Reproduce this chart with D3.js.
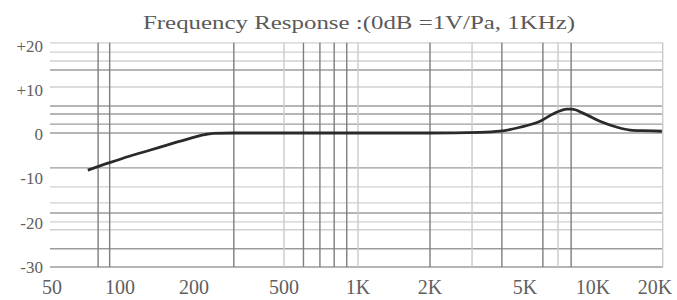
<!DOCTYPE html>
<html>
<head>
	<script src="https://cdnjs.cloudflare.com/ajax/libs/d3/7.8.2/d3.min.js"></script>
	<style>
		body {
			margin: 0 ;
			background: white ;
		}
		text {
			font-family: "Liberation Serif", "DejaVu Serif", serif ;
		}
	</style>
</head>
<body>
	<svg id="canvas"></svg>
</body>
<script>
	// measured response (frequency in Hz, level in dB re 1V/Pa)
	let freqs = [ 72, 90, 110, 132, 160, 193, 219, 243, 300, 1000, 2000, 3240, 3930, 4770, 5830, 6650, 7670, 8070, 9030, 10800, 13100, 15600, 19600, 21600 ] ;
	let levels = [ -8.4, -6.7, -5.2, -3.9, -2.5, -1.2, -0.45, -0.1, 0, 0, 0, 0.15, 0.4, 1.3, 2.65, 4.3, 5.4, 5.4, 4.5, 2.65, 1.3, 0.6, 0.5, 0.4 ] ;

	// axis ticks
	let xTicks = [ 50, 100, 200, 500, 1000, 2000, 5000, 10000, 20000 ] ;
	let xTickLabels = [ "50", "100", "200", "500", "1K", "2K", "5K", "10K", "20K" ] ;
	let yTicks = [ 20, 10, 0, -10, -20, -30 ] ;
	let yTickLabels = [ "+20", "+10", "0", "-10", "-20", "-30" ] ;

	// the printed grid is irregular, these are where its lines sit
	let vGridDark = [ 80, 90, 300, 600, 700, 800, 900, 2000, 4000, 6000, 8000 ] ;
	let vGridLight = [ 500, 1000, 3000, 7000, 21800 ] ;
	let hGridDark = [ 14.25, 6.1, 4.3, 2.0, 0, -7.9, -18.1, -26.2, -30.3 ] ;
	let hGridLight = [ 20.4, 18.3, 16.3, 10.4, -12.2, -15.8, -20.1, -21.9 ] ;

	let title = "Frequency  Response :(0dB =1V/Pa, 1KHz)" ;

	let geom = {
		width: 677,
		height: 300,
		left: 50,
		right: 663
	} ;

	// the scanned chart is not an exact log axis, so go piecewise through the labelled ticks
	let scales = {
		x: d3.scaleLog()
			.domain( xTicks )
			.range( [ 52, 120, 194, 284, 358, 430, 525, 593, 655 ] ),
		y: d3.scaleLinear()
			.domain( [ -30, 20 ] )
			.range( [ 265.6, 44.6 ] )
	} ;

	let svg = d3.select( 'svg' )
		.attr( 'width', geom.width )
		.attr( 'height', geom.height ) ;

	svg.append( 'rect' )
		.attr( 'width', geom.width )
		.attr( 'height', geom.height )
		.attr( 'fill', 'white' ) ;

	let grid = svg.append( 'g' ).attr( 'class', 'grid' ) ;

	let hlines = function( values, colour ) {
		grid.selectAll( null )
			.data( values )
			.enter()
			.append( 'line' )
			.attr( 'x1', geom.left )
			.attr( 'x2', geom.right )
			.attr( 'y1', d => scales.y( d ) )
			.attr( 'y2', d => scales.y( d ) )
			.attr( 'stroke', colour )
			.attr( 'stroke-width', 1.4 ) ;
	} ;
	let vlines = function( values, colour ) {
		grid.selectAll( null )
			.data( values )
			.enter()
			.append( 'line' )
			.attr( 'x1', d => scales.x( d ) )
			.attr( 'x2', d => scales.x( d ) )
			.attr( 'y1', scales.y( 20.4 ) )
			.attr( 'y2', scales.y( -30.3 ) )
			.attr( 'stroke', colour )
			.attr( 'stroke-width', 1.4 ) ;
	} ;
	hlines( hGridLight, '#d0d0d0' ) ;
	hlines( hGridDark, '#9c9c9c' ) ;
	vlines( vGridLight, '#cacaca' ) ;
	vlines( vGridDark, '#7e7e7e' ) ;

	let line = d3.line()
		.x( (d, i) => scales.x( freqs[i] ) )
		.y( (d, i) => scales.y( levels[i] ) )
		.curve( d3.curveMonotoneX ) ;

	svg.append( 'path' )
		.attr( 'd', line( freqs ) )
		.attr( 'fill', 'none' )
		.attr( 'stroke', '#2a2a2a' )
		.attr( 'stroke-width', 2.8 )
		.attr( 'stroke-linejoin', 'round' ) ;

	// x axis labels
	svg.append( 'g' )
		.selectAll( 'text' )
		.data( xTicks )
		.enter()
		.append( 'text' )
		.attr( 'x', d => scales.x( d ) )
		.attr( 'y', 294 )
		.attr( 'text-anchor', 'middle' )
		.attr( 'font-size', 20 )
		.attr( 'fill', '#606060' )
		.text( (d, i) => xTickLabels[i] ) ;

	// y axis labels
	svg.append( 'g' )
		.selectAll( 'text' )
		.data( yTicks )
		.enter()
		.append( 'text' )
		.attr( 'x', 43 )
		.attr( 'y', d => scales.y( d ) )
		.attr( 'dy', '0.42em' )
		.attr( 'text-anchor', 'end' )
		.attr( 'font-size', 17 )
		.attr( 'fill', '#606060' )
		.text( (d, i) => yTickLabels[i] ) ;

	svg.append( 'text' )
		.attr( 'x', 143 )
		.attr( 'y', 29 )
		.attr( 'font-size', 19 )
		.attr( 'fill', '#5a5a5a' )
		.attr( 'textLength', 432 )
		.attr( 'lengthAdjust', 'spacingAndGlyphs' )
		.text( title ) ;
</script>
</html>
